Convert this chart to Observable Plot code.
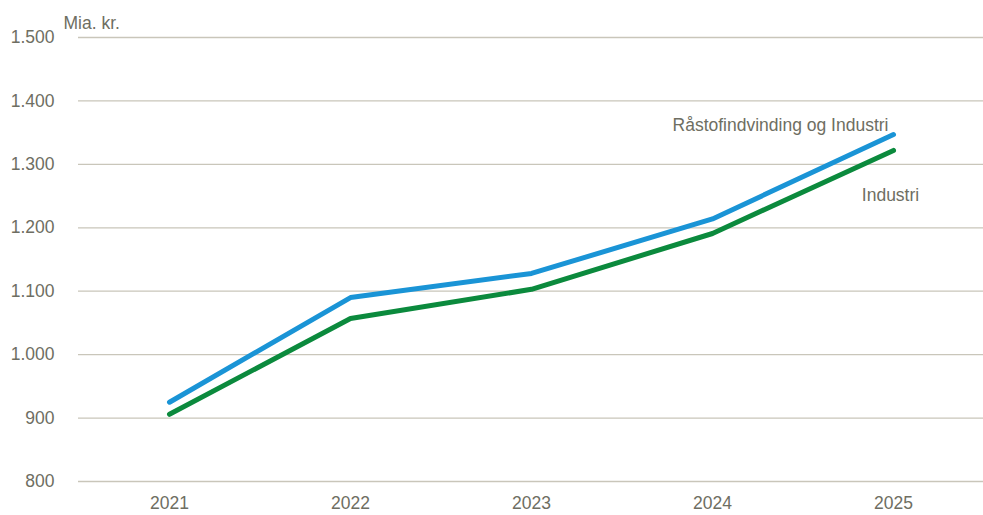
<!DOCTYPE html>
<html>
<head>
<meta charset="utf-8">
<script src="https://cdn.jsdelivr.net/npm/d3@7"></script>
<script src="https://cdn.jsdelivr.net/npm/@observablehq/plot@0.6"></script>
<style>
  html, body { margin: 0; padding: 0; background: #fff; }
  #chart svg { display: block; }
</style>
</head>
<body>
<div id="chart"></div>
<script>
const years = ["2021", "2022", "2023", "2024", "2025"];
const raastofIndustri = [925, 1090, 1128, 1214, 1347];
const industri = [906, 1057, 1103, 1191, 1322];
const seriesNames = ["Råstofindvinding og Industri", "Industri"];
const yTicks = [800, 900, 1000, 1100, 1200, 1300, 1400, 1500];
const unitLabel = "Mia. kr.";

const colors = ["#1a94d6", "#0b8a3d"];
const textColor = "#6e6e62";
const font = "'Liberation Sans Narrow', 'Arial Narrow', 'Liberation Sans', sans-serif";

const rows = [];
years.forEach((y, i) => {
  rows.push({year: y, value: raastofIndustri[i], series: seriesNames[0]});
  rows.push({year: y, value: industri[i], series: seriesNames[1]});
});
const last = years.length - 1;
const labels = [
  {year: years[last], value: raastofIndustri[last], text: seriesNames[0], dx: -5, dy: -9, anchor: "end"},
  {year: years[last], value: industri[last], text: seriesNames[1], dx: -3, dy: 45, anchor: "middle"}
];

const locale = d3.formatLocale({decimal: ",", thousands: ".", grouping: [3], currency: ["", " kr."]});
const fmt = locale.format(",d");

const chart = Plot.plot({
  width: 983,
  height: 515,
  marginLeft: 78,
  marginRight: 0,
  marginTop: 37,
  marginBottom: 34,
  style: {fontFamily: font, fontSize: "17.5px", color: textColor, background: "#fff"},
  x: {type: "point", domain: years, padding: 0.5, label: null},
  y: {domain: [800, 1500], ticks: yTicks, label: null, tickFormat: fmt},
  color: {domain: seriesNames, range: colors},
  marks: [
    Plot.gridY(yTicks, {stroke: "#c9c6ba", strokeOpacity: 1, strokeWidth: 1.3}),
    Plot.axisY(yTicks, {tickSize: 0, tickPadding: 24, fill: textColor, fontSize: 17.5, tickFormat: fmt, label: null}),
    Plot.axisX({tickSize: 0, tickPadding: 15, fill: textColor, fontSize: 17.5, label: null}),
    Plot.line(rows, {x: "year", y: "value", z: "series", stroke: "series", strokeWidth: 5, strokeLinecap: "round", strokeLinejoin: "round"}),
    ...labels.map(l => Plot.text([l], {x: "year", y: "value", text: "text", dx: l.dx, dy: l.dy, textAnchor: l.anchor, fill: textColor, fontSize: 17.5})),
    Plot.text([unitLabel], {frameAnchor: "top-left", dx: -15, dy: -14, textAnchor: "start", lineAnchor: "middle", fill: textColor, fontSize: 17.5})
  ]
});
document.getElementById("chart").appendChild(chart);
</script>
</body>
</html>
